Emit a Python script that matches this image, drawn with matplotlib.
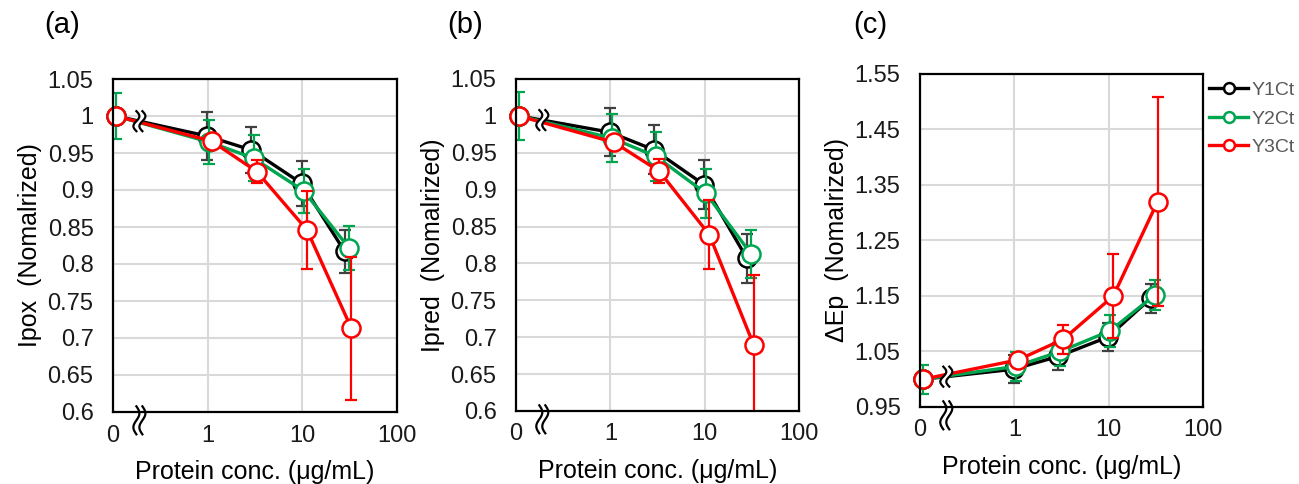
import numpy as np
import matplotlib
matplotlib.use("Agg")
import matplotlib.pyplot as plt
import matplotlib.transforms as mtransforms

plt.rcParams['font.family'] = ['Liberation Sans', 'DejaVu Sans']

# ---------------- data ----------------
series_names = ["Y1Ct", "Y2Ct", "Y3Ct"]
# x positions (µg/mL); the "0" point is drawn at the left edge of the log axis
x_y1 = [0.107, 0.98, 2.9, 9.8, 28]
x_y2 = [0.107, 1.03, 3.05, 10.3, 31]
x_y3 = [0.107, 1.1, 3.3, 11.2, 33]

# (a) Ipox
a_y1 = [1.000, 0.973, 0.954, 0.909, 0.817]
a_y1_err = [0.005, 0.033, 0.031, 0.030, 0.029]
a_y2 = [1.000, 0.965, 0.943, 0.899, 0.822]
a_y2_err = [0.031, 0.030, 0.031, 0.030, 0.030]
a_y3 = [1.000, 0.966, 0.925, 0.846, 0.713]
a_y3_err = [0.004, 0.006, 0.016, 0.053, 0.097]

# (b) Ipred
b_y1 = [1.000, 0.978, 0.954, 0.907, 0.807]
b_y1_err = [0.005, 0.033, 0.033, 0.033, 0.033]
b_y2 = [1.000, 0.970, 0.945, 0.895, 0.813]
b_y2_err = [0.033, 0.033, 0.033, 0.033, 0.033]
b_y3 = [1.000, 0.964, 0.925, 0.839, 0.690]
b_y3_err = [0.004, 0.006, 0.016, 0.047, 0.095]

# (c) dEp
c_y1 = [1.000, 1.018, 1.041, 1.076, 1.146]
c_y1_err = [0.004, 0.025, 0.024, 0.025, 0.026]
c_y2 = [1.000, 1.023, 1.050, 1.087, 1.152]
c_y2_err = [0.026, 0.027, 0.026, 0.029, 0.027]
c_y3 = [1.000, 1.035, 1.072, 1.150, 1.320]
c_y3_err = [0.004, 0.006, 0.026, 0.076, 0.188]

x_ticks = [0.1, 1, 10, 100]
x_ticklabels = ["0", "1", "10", "100"]
ab_yticks = [0.6, 0.65, 0.7, 0.75, 0.8, 0.85, 0.9, 0.95, 1.0, 1.05]
ab_yticklabels = ["0.6", "0.65", "0.7", "0.75", "0.8", "0.85", "0.9", "0.95", "1", "1.05"]
c_yticks = [0.95, 1.05, 1.15, 1.25, 1.35, 1.45, 1.55]
c_yticklabels = ["0.95", "1.05", "1.15", "1.25", "1.35", "1.45", "1.55"]

ylabels = ["Ipox  (Nomalrized)", "Ipred  (Nomalrized)", "\u0394Ep  (Nomalrized)"]
xlabel = "Protein conc. (\u03bcg/mL)"
panel_tags = ["(a)", "(b)", "(c)"]
break_x = 0.19

# ---------------- styling ----------------
line_colors = ["#000000", "#00a550", "#ff0000"]
err_colors = ["#404040", "#00a550", "#ff0000"]
grid_color = "#d9d9d9"
text_color = "#1a1a1a"

W, H = 1299, 484
fig = plt.figure(figsize=(W / 100, H / 100), dpi=100)

def frac(l, t, r, b):
    return [l / W, 1 - b / H, (r - l) / W, (b - t) / H]

axes_rects = [frac(113, 79, 397, 412), frac(516, 79, 799, 411), frac(920, 74, 1203, 407)]

panel_data = [
    ([a_y1, a_y2, a_y3], [a_y1_err, a_y2_err, a_y3_err], (0.6, 1.05), ab_yticks, ab_yticklabels),
    ([b_y1, b_y2, b_y3], [b_y1_err, b_y2_err, b_y3_err], (0.6, 1.05), ab_yticks, ab_yticklabels),
    ([c_y1, c_y2, c_y3], [c_y1_err, c_y2_err, c_y3_err], (0.95, 1.55), c_yticks, c_yticklabels),
]
xs = [x_y1, x_y2, x_y3]


def draw_break(ax, xc, yc, height_in, clip=True):
    """Draw a '≀≀' style break symbol centered at data (xc, yc)."""
    trans = fig.dpi_scale_trans + mtransforms.ScaledTranslation(xc, yc, ax.transData)
    t = np.linspace(-1, 1, 60)
    yy = t * height_in / 2
    amp = 0.03
    gap = 0.06
    xx1 = -gap / 2 + amp * np.sin(np.pi * t)
    xx2 = gap / 2 + amp * np.sin(np.pi * t)
    poly_x = np.concatenate([xx1, xx2[::-1]])
    poly_y = np.concatenate([yy, yy[::-1]])
    ax.fill(poly_x, poly_y, color="white", transform=trans, zorder=20, clip_on=clip, lw=0)
    ax.plot(xx1, yy, color="black", lw=1.6, transform=trans, zorder=21, clip_on=clip)
    ax.plot(xx2, yy, color="black", lw=1.6, transform=trans, zorder=21, clip_on=clip)


for i, (rect, (ys, errs, ylim, yt, ytl)) in enumerate(zip(axes_rects, panel_data)):
    ax = fig.add_axes(rect)
    ax.set_xscale("log")
    ax.set_xlim(0.1, 100)
    ax.set_ylim(*ylim)
    ax.set_xticks(x_ticks)
    ax.set_xticklabels(x_ticklabels)
    ax.minorticks_off()
    ax.set_yticks(yt)
    ax.set_yticklabels(ytl)
    ax.tick_params(axis="both", length=0, labelsize=17, colors=text_color)
    ax.tick_params(axis="y", pad=14)
    ax.tick_params(axis="x", pad=9)
    ax.grid(True, color=grid_color, lw=1.5, zorder=0)
    ax.set_axisbelow(True)
    for sp in ax.spines.values():
        sp.set_linewidth(1.6)
        sp.set_color("black")
        sp.set_zorder(25)

    for k in range(3):
        ax.errorbar(xs[k], ys[k], yerr=errs[k], fmt="none", ecolor=err_colors[k],
                    elinewidth=1.6, capsize=4.5, capthick=1.6, zorder=3 + 2 * k, clip_on=True)
        ax.plot(xs[k], ys[k], color=line_colors[k], lw=2.4, marker="o", ms=13,
                mfc="white", mec=line_colors[k], mew=1.8, zorder=4 + 2 * k,
                label=series_names[k], clip_on=False)

    # break symbols: on the data line and on the x axis
    y_ref = ys[0]
    x0, x1 = np.log10(x_y1[0]), np.log10(x_y1[1])
    frac_b = (np.log10(break_x) - x0) / (x1 - x0)
    yb = y_ref[0] + frac_b * (y_ref[1] - y_ref[0])
    draw_break(ax, break_x, yb, 0.2)
    draw_break(ax, break_x, ylim[0] - (ylim[1] - ylim[0]) * 0.025, 0.28, clip=False)

    ax.set_ylabel(ylabels[i], fontsize=18, color="black", labelpad=4)
    ax.set_xlabel(xlabel, fontsize=18, color="black", labelpad=10)

    if i == 2:
        leg = ax.legend(loc="upper left", bbox_to_anchor=(1.022, 0.977), frameon=False,
                        fontsize=14, handlelength=2.0, handletextpad=0.15,
                        labelspacing=0.55, borderaxespad=0.0, borderpad=0.0,
                        markerscale=0.6)
        for txt in leg.get_texts():
            txt.set_color("#595959")
        for h in leg.legend_handles:
            h.set_linewidth(2.4)

tag_pos = [(62, 25), (465, 25), (870, 25)]
for tag, (px, py) in zip(panel_tags, tag_pos):
    fig.text(px / W, 1 - py / H, tag, fontsize=21, ha="center", va="center", color="black")

fig.savefig("out.png", dpi=100)
